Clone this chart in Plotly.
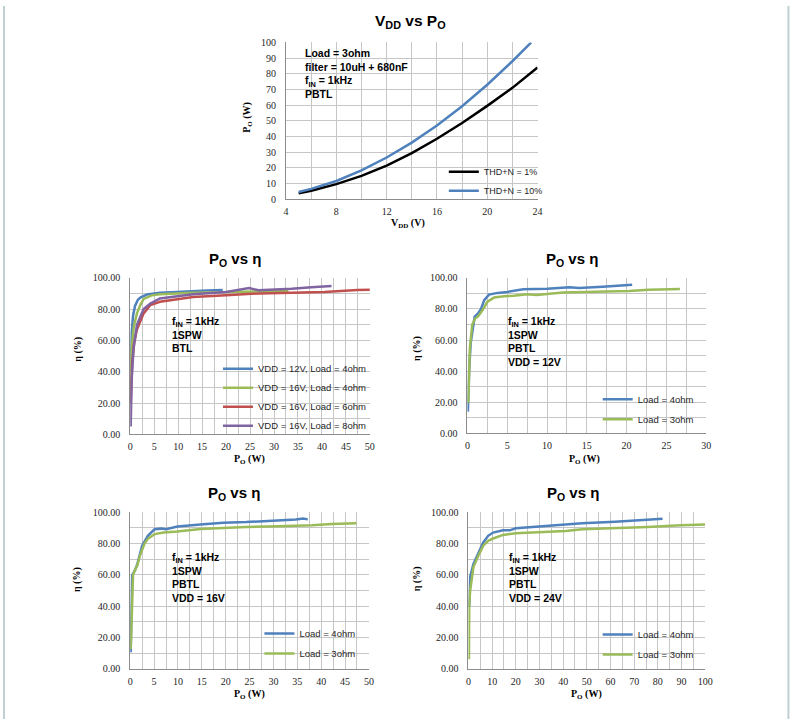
import plotly.graph_objects as go

W, H = 797, 724

# ---------------- data ----------------
# Top chart: VDD vs PO (Load = 3ohm, PBTL)
vdd_thd1 = [5, 6, 8, 10, 12, 14, 16, 18, 20, 22, 24]
po_thd1 = [3.6, 5.3, 9.5, 14.8, 21.3, 29.3, 38.5, 48.5, 59.5, 71, 84]
vdd_thd10 = [5, 6, 8, 10, 12, 14, 16, 18, 20, 22, 23.5]
po_thd10 = [4.5, 6.5, 11.5, 18.3, 26.5, 36, 47, 59.3, 73, 88, 100]

# BTL efficiency
btl_12v4_po = [0.1, 0.3, 0.6, 1.0, 1.6, 2.2, 3.5, 6.2, 9.7, 13.1, 16, 19.3]
btl_12v4_eff = [40, 65, 76, 82, 86, 87.5, 89.3, 90.5, 91, 91.6, 91.9, 92.2]
btl_16v4_po = [0.1, 0.3, 0.75, 1.4, 2.1, 2.8, 4.5, 6.2, 13.1, 20, 27, 33]
btl_16v4_eff = [30, 55, 69, 77.3, 82.6, 86.5, 88.8, 89.5, 90.5, 91, 91.3, 91.6]
btl_16v6_po = [0.1, 0.4, 0.8, 1.4, 2.8, 4.2, 6.2, 9.7, 13.1, 20, 26.8, 33.7, 40.5, 47.4, 50]
btl_16v6_eff = [20, 45, 58, 67, 77.3, 82.6, 84.7, 86.4, 87.8, 88.9, 90, 90.4, 91, 92.2, 92.4]
btl_16v8_po = [0.1, 0.3, 0.7, 1.4, 2.8, 4.2, 6.2, 9.7, 13.1, 20, 23.4, 24.8, 26.8, 30, 33.7, 37.8, 42]
btl_16v8_eff = [5, 35, 55, 70, 80, 83.6, 86.8, 88.3, 89.5, 91, 93, 93.4, 92, 92.4, 93, 94, 94.7]

# PBTL efficiency, VDD = 12V
p12_4_po = [0.05, 0.2, 0.4, 0.7, 0.9, 1.3, 1.7, 2.1, 2.7, 3.8, 5, 7, 10, 12.85, 14, 17, 19.5, 20.7]
p12_4_eff = [14, 40, 58, 70, 75, 77, 80, 85.7, 89.2, 90.3, 90.9, 92.6, 93, 93.9, 93.5, 94.3, 94.9, 95.6]
p12_3_po = [0.1, 0.3, 0.6, 1.0, 1.3, 1.9, 2.5, 3.35, 4.6, 5.8, 7.5, 8.7, 12, 16.2, 20.3, 22.8, 25.3, 26.7]
p12_3_eff = [19.6, 55, 70, 74, 75, 79.3, 84.6, 87.3, 88.2, 88.4, 89.5, 89, 90.5, 90.9, 91.6, 92.4, 92.8, 92.8]

# PBTL efficiency, VDD = 16V
p16_4_po = [0.1, 0.4, 1.0, 1.5, 2.5, 3.7, 5.1, 6.5, 7.5, 9.9, 14.7, 19.5, 24.3, 29.2, 34.7, 36.2, 37.2]
p16_4_eff = [10.5, 59.7, 63, 67, 78.6, 84.9, 89.1, 89.5, 89.1, 90.8, 92.2, 93.3, 93.7, 94.3, 95.4, 96, 95.4]
p16_3_po = [0.1, 0.6, 1.0, 1.5, 2.0, 2.5, 3.0, 3.7, 5.1, 7, 9.9, 14.7, 19.5, 24.3, 31.2, 38.1, 42.2, 47.4]
p16_3_eff = [12.6, 60, 63, 66, 72, 76, 80, 83, 86, 87, 87.6, 89.3, 90.1, 90.6, 91, 91.6, 92.5, 92.9]

# PBTL efficiency, VDD = 24V
p24_4_po = [0.3, 0.7, 2.1, 4.2, 6.25, 8.3, 10.4, 14.6, 17.4, 20, 27, 34, 41, 48, 62, 75.7, 82]
p24_4_eff = [39.7, 58.6, 67, 74.4, 80.7, 84.9, 87, 88.4, 88.4, 89.7, 90.5, 91.6, 92.4, 92.9, 93.9, 95, 95.8]
p24_3_po = [0.2, 0.3, 0.7, 2.1, 4.2, 6.25, 8.3, 10.4, 14.6, 20, 27, 34, 41, 48, 62, 75.7, 89.6, 100]
p24_3_eff = [6.1, 40, 50, 65, 72.3, 78.6, 81.7, 83.2, 85.5, 86.6, 87, 87.6, 88, 89.1, 89.7, 90.5, 91.6, 92.2]

# ---------------- styling ----------------
BLUE, RED, GREEN, PURPLE = "#4F81BD", "#C0504D", "#9BBB59", "#8064A2"
SANS = "Liberation Sans"
SERIF = "Liberation Serif"
GRID = "#C6C6C6"
AXIS = "#8C8C8C"
TXT = "#262626"


def px_x(p):
    return p / W


def px_y(p):
    return 1 - p / H


fig = go.Figure()

# plot-area boxes (pixel coords)
boxes = {
    "": (287, 542, 37, 196),
    "2": (129, 372, 276, 435),
    "3": (471, 713, 276, 434),
    "4": (129, 371, 514, 673),
    "5": (472, 712, 514, 673),
}


def add_line(x, y, name, color, ax, legend, group, width=2.5):
    fig.add_trace(go.Scatter(
        x=x, y=y, mode="lines", name=name,
        line=dict(color=color, width=width),
        xaxis="x" + ax, yaxis="y" + ax,
        legend=legend, legendgroup=group,
        hoverinfo="x+y+name",
    ))


add_line(vdd_thd1, po_thd1, "THD+N = 1%", "#000000", "", "legend", "a1")
add_line(vdd_thd10, po_thd10, "THD+N = 10%", BLUE, "", "legend", "a2")

add_line(btl_12v4_po, btl_12v4_eff, "VDD = 12V, Load = 4ohm", BLUE, "2", "legend2", "b1")
add_line(btl_16v4_po, btl_16v4_eff, "VDD = 16V, Load = 4ohm", GREEN, "2", "legend2", "b2")
add_line(btl_16v6_po, btl_16v6_eff, "VDD = 16V, Load = 6ohm", RED, "2", "legend2", "b3")
add_line(btl_16v8_po, btl_16v8_eff, "VDD = 16V, Load = 8ohm", PURPLE, "2", "legend2", "b4")

add_line(p12_4_po, p12_4_eff, "Load = 4ohm", BLUE, "3", "legend3", "c1")
add_line(p12_3_po, p12_3_eff, "Load = 3ohm", GREEN, "3", "legend3", "c2")

add_line(p16_4_po, p16_4_eff, "Load = 4ohm", BLUE, "4", "legend4", "d1")
add_line(p16_3_po, p16_3_eff, "Load = 3ohm", GREEN, "4", "legend4", "d2")

add_line(p24_4_po, p24_4_eff, "Load = 4ohm", BLUE, "5", "legend5", "e1")
add_line(p24_3_po, p24_3_eff, "Load = 3ohm", GREEN, "5", "legend5", "e2")


def axis_pair(key, xr, xd, xminor, yr, yd, ymin, yfmt):
    l, r, t, b = boxes[key]
    xa = dict(
        domain=[px_x(l), px_x(r)], range=xr, dtick=xd, tick0=0,
        showgrid=True, gridcolor=GRID, gridwidth=1,
        minor=dict(dtick=xminor, showgrid=True, gridcolor=GRID, gridwidth=1) if xminor else None,
        showline=True, linecolor=AXIS, linewidth=1, zeroline=False,
        ticks="", tickfont=dict(family=SERIF, size=10, color=TXT),
        ticklabelstandoff=3, anchor="y" + key, fixedrange=True,
    )
    ya = dict(
        domain=[px_y(b), px_y(t)], range=yr, dtick=yd, tick0=0,
        showgrid=True, gridcolor=GRID, gridwidth=1,
        minor=dict(dtick=ymin, showgrid=True, gridcolor=GRID, gridwidth=1) if ymin else None,
        showline=True, linecolor=AXIS, linewidth=1, zeroline=False,
        ticks="", tickformat=yfmt, tickfont=dict(family=SERIF, size=10, color=TXT),
        ticklabelstandoff=7, anchor="x" + key, fixedrange=True,
    )
    xa = {k: v for k, v in xa.items() if v is not None}
    ya = {k: v for k, v in ya.items() if v is not None}
    fig.layout["xaxis" + key] = xa
    fig.layout["yaxis" + key] = ya


axis_pair("", [4, 24], 4, 2, [0, 100], 10, None, "d")
axis_pair("2", [0, 50], 5, 2.5, [0, 100], 20, 10, ".2f")
axis_pair("3", [0, 30], 5, 2.5, [0, 100], 20, 10, ".2f")
axis_pair("4", [0, 50], 5, 2.5, [0, 100], 20, 10, ".2f")
axis_pair("5", [0, 100], 10, 5, [0, 100], 20, 10, ".2f")


def legend_cfg(text_left, first_center, size, gap):
    return dict(
        x=px_x(text_left - 40), y=px_y(first_center - 9.5),
        xanchor="left", yanchor="top", xref="paper", yref="paper",
        bgcolor="rgba(0,0,0,0)", borderwidth=0,
        font=dict(family=SANS, size=size, color=TXT),
        tracegroupgap=gap, itemwidth=30, itemclick=False, itemdoubleclick=False,
    )


fig.update_layout(
    legend=legend_cfg(487, 163, 9, 0),
    legend2=legend_cfg(258, 363, 9.5, 0),
    legend3=legend_cfg(643, 394, 9.5, 1),
    legend4=legend_cfg(300, 632, 9.5, 1),
    legend5=legend_cfg(643, 633, 9.5, 1),
)

annotations = []


def ann(text, x, y, size, family, bold=True, angle=0, xanchor="center", yanchor="middle", align="center"):
    annotations.append(dict(
        text=("<b>%s</b>" % text) if bold else text,
        x=px_x(x), y=px_y(y), xref="paper", yref="paper",
        xanchor=xanchor, yanchor=yanchor, align=align,
        showarrow=False, textangle=angle,
        font=dict(family=family, size=size, color="#000000"),
    ))


# chart titles
ann("V<sub>DD</sub> vs P<sub>O</sub>", 413, 16, 15.5, SANS)
ann("P<sub>O</sub> vs η", 235, 257, 15, SANS)
ann("P<sub>O</sub> vs η", 577, 257, 15, SANS)
ann("P<sub>O</sub> vs η", 234, 495, 15, SANS)
ann("P<sub>O</sub> vs η", 578, 495, 15, SANS)

# axis titles
ann("V<sub>DD</sub> (V)", 411, 221, 10, SERIF)
ann("P<sub>O</sub> (W)", 248, 113, 10, SERIF, angle=-90)
for cx, cy in [(250, 460), (590, 460), (250, 699), (592, 699)]:
    ann("P<sub>O</sub> (W)", cx, cy, 10, SERIF)
for cx, cy in [(76, 348), (420, 348), (75, 582), (420, 582)]:
    ann("η (%)", cx, cy, 10, SERIF, angle=-90)

# info text blocks
info_top = "Load = 3ohm<br>filter = 10uH + 680nF<br>f<sub>IN</sub> = 1kHz<br>PBTL"
ann(info_top, 304, 40, 10.5, SANS, xanchor="left", yanchor="top", align="left")
ann("f<sub>IN</sub> = 1kHz<br>1SPW<br>BTL", 169, 312, 10.5, SANS, xanchor="left", yanchor="top", align="left")
ann("f<sub>IN</sub> = 1kHz<br>1SPW<br>PBTL<br>VDD = 12V", 510, 312, 10.5, SANS, xanchor="left", yanchor="top", align="left")
ann("f<sub>IN</sub> = 1kHz<br>1SPW<br>PBTL<br>VDD = 16V", 169, 551, 10.5, SANS, xanchor="left", yanchor="top", align="left")
ann("f<sub>IN</sub> = 1kHz<br>1SPW<br>PBTL<br>VDD = 24V", 511, 551, 10.5, SANS, xanchor="left", yanchor="top", align="left")

fig.update_layout(
    autosize=True,
    margin=dict(l=0, r=0, t=0, b=0),
    paper_bgcolor="#FFFFFF", plot_bgcolor="#FFFFFF",
    showlegend=True,
    annotations=annotations,
    shapes=[
        dict(type="line", xref="paper", yref="paper", x0=0.0013, x1=0.0013, y0=0, y1=1,
             line=dict(color="#BFD0D0", width=2)),
        dict(type="line", xref="paper", yref="paper", x0=0.9993, x1=0.9993, y0=0, y1=1,
             line=dict(color="#BFD0D0", width=2)),
    ],
    hovermode="closest",
)

fig.write_html(
    "out.html", include_plotlyjs=True,
    config={"displayModeBar": False, "responsive": True},
    default_width="100vw", default_height="100vh",
    post_script=(
        "document.documentElement.style.margin='0px';"
        "document.body.style.margin='0px';"
        "document.body.style.overflow='hidden';"
        "document.documentElement.style.overflow='hidden';"
        "var gd=document.getElementById('{plot_id}');"
        "Plotly.relayout(gd,{width:window.innerWidth,height:window.innerHeight});"
    ),
)
